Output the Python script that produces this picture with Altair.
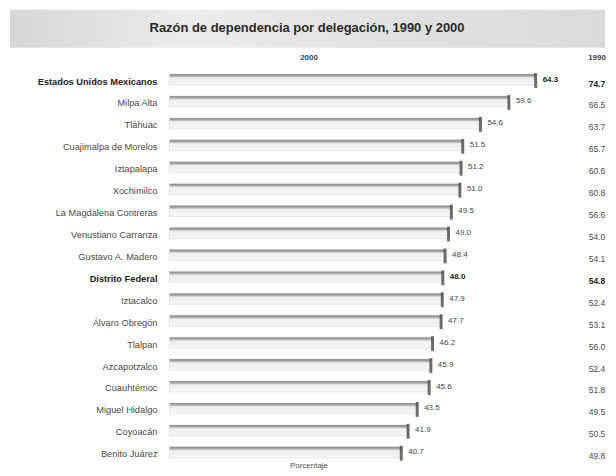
import altair as alt
import pandas as pd

titulo = "Razón de dependencia por delegación, 1990 y 2000"
encabezado_2000 = "2000"
encabezado_1990 = "1990"
eje_x = "Porcentaje"

delegaciones = [
    "Estados Unidos Mexicanos", "Milpa Alta", "Tláhuac", "Cuajimalpa de Morelos",
    "Iztapalapa", "Xochimilco", "La Magdalena Contreras", "Venustiano Carranza",
    "Gustavo A. Madero", "Distrito Federal", "Iztacalco", "Álvaro Obregón",
    "Tlalpan", "Azcapotzalco", "Cuauhtémoc", "Miguel Hidalgo", "Coyoacán",
    "Benito Juárez",
]
v2000 = [64.3, 59.6, 54.6, 51.5, 51.2, 51.0, 49.5, 49.0, 48.4, 48.0, 47.9, 47.7,
         46.2, 45.9, 45.6, 43.5, 41.9, 40.7]
v1990 = [74.7, 66.5, 63.7, 65.7, 60.6, 60.8, 56.6, 54.0, 54.1, 54.8, 52.4, 53.1,
         56.0, 52.4, 51.8, 49.5, 50.5, 49.8]
destacados = ["Estados Unidos Mexicanos", "Distrito Federal"]

df = pd.DataFrame({"delegacion": delegaciones, "v2000": v2000, "v1990": v1990})
df["bold"] = df["delegacion"].isin(destacados)
df["t2000"] = df["v2000"].map(lambda v: f"{v:.1f}")
df["t1990"] = df["v1990"].map(lambda v: f"{v:.1f}")

one = pd.DataFrame({"k": [0]})

FONT = "Liberation Sans"

y = alt.Y("delegacion:N", sort=delegaciones, axis=None,
          scale=alt.Scale(paddingInner=0, paddingOuter=0))
x = alt.X("v2000:Q", axis=None, scale=alt.Scale(domain=[0, 77], nice=False))

base = alt.Chart(df)

band = alt.Chart(one).mark_rect(
    fill=alt.Gradient(
        gradient="linear", x1=0, x2=1, y1=0, y2=0,
        stops=[alt.GradientStop(offset=0, color="#d6d6d6"),
               alt.GradientStop(offset=0.3, color="#ececec"),
               alt.GradientStop(offset=0.6, color="#e2e2e2"),
               alt.GradientStop(offset=1, color="#dadada")])
).encode(x=alt.value(-160), x2=alt.value(437), y=alt.value(-61), y2=alt.value(-23))

title_t = alt.Chart(one).mark_text(
    font=FONT, fontSize=13, fontWeight="bold", color="#2a2a2a", align="center", baseline="middle"
).encode(x=alt.value(138), y=alt.value(-43), text=alt.value(titulo))

h2000 = alt.Chart(one).mark_text(
    font=FONT, fontSize=8, fontWeight="bold", color="#444", align="center", baseline="middle"
).encode(x=alt.value(140), y=alt.value(-13), text=alt.value(encabezado_2000))

h1990 = alt.Chart(one).mark_text(
    font=FONT, fontSize=8, fontWeight="bold", color="#444", align="center", baseline="middle"
).encode(x=alt.value(429), y=alt.value(-13), text=alt.value(encabezado_1990))

xlab = alt.Chart(one).mark_text(
    font=FONT, fontSize=8, color="#555", align="center", baseline="middle"
).encode(x=alt.value(140), y=alt.value(397), text=alt.value(eje_x))

bars = base.mark_bar(
    height=11, yOffset=-2,
    fill=alt.Gradient(
        gradient="linear", x1=0, x2=0, y1=0, y2=1,
        stops=[alt.GradientStop(offset=0, color="#7a7a7a"),
               alt.GradientStop(offset=0.2, color="#b0b0b0"),
               alt.GradientStop(offset=0.35, color="#eeeeee"),
               alt.GradientStop(offset=1, color="#f6f6f6")]),
    stroke="#d0d0d0", strokeWidth=0.5,
).encode(x=x, y=y)

caps = base.mark_tick(thickness=3, size=15, color="#333333", yOffset=-1).encode(x=x, y=y)

vals = base.mark_text(
    font=FONT, fontSize=8, color="#444", align="left", baseline="middle", dx=7, dy=-2
).encode(x=x, y=y, text="t2000:N").transform_filter("!datum.bold")
vals_b = base.mark_text(
    font=FONT, fontSize=8, fontWeight="bold", color="#222", align="left", baseline="middle", dx=7, dy=-2
).encode(x=x, y=y, text="t2000:N").transform_filter("datum.bold")

labs = base.mark_text(
    font=FONT, fontSize=9.3, color="#4a4a4a", align="right", baseline="middle"
).encode(x=alt.value(-12), y=y, text="delegacion:N").transform_filter("!datum.bold")
labs_b = base.mark_text(
    font=FONT, fontSize=9.3, fontWeight="bold", color="#222", align="right", baseline="middle"
).encode(x=alt.value(-12), y=y, text="delegacion:N").transform_filter("datum.bold")

c90 = base.mark_text(
    font=FONT, fontSize=8.5, color="#4a4a4a", align="center", baseline="middle", dy=2
).encode(x=alt.value(429), y=y, text="t1990:N").transform_filter("!datum.bold")
c90_b = base.mark_text(
    font=FONT, fontSize=8.5, fontWeight="bold", color="#222", align="center", baseline="middle", dy=2
).encode(x=alt.value(429), y=y, text="t1990:N").transform_filter("datum.bold")

chart = alt.layer(
    band, title_t, h2000, h1990, xlab, bars, caps, vals, vals_b, labs, labs_b, c90, c90_b
).properties(
    width=440, height=396,
    autosize=alt.AutoSizeParams(type="none"),
    padding={"left": 162, "top": 62, "right": 0, "bottom": 6},
).configure_view(stroke=None)

chart.save("out.html", embed_options={"renderer": "svg", "actions": False})
